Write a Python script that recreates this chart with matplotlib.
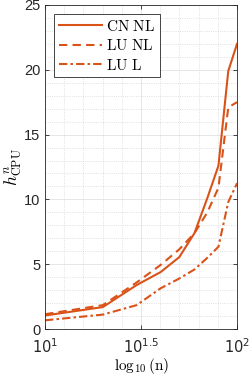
import numpy as np
import matplotlib
matplotlib.use("Agg")
import matplotlib.pyplot as plt
from matplotlib.ticker import FixedLocator, MultipleLocator, NullFormatter
from matplotlib.font_manager import FontProperties

n = [10, 20, 30, 40, 50, 60, 70, 80, 90, 100]
cn_nl = [1.05, 1.7, 3.4, 4.4, 5.55, 7.4, 10.1, 12.6, 19.9, 22.0]
lu_nl = [1.15, 1.85, 3.6, 4.95, 6.15, 7.4, 9.0, 10.9, 17.1, 17.5]
lu_l = [0.68, 1.12, 1.85, 3.15, 3.9, 4.6, 5.5, 6.35, 9.8, 11.25]

series_labels = [r'$\mathrm{CN\ NL}$', r'$\mathrm{LU\ NL}$', r'$\mathrm{LU\ L}$']
xtick_vals = [10, 10 ** 1.5, 100]
xtick_labels = [r'$10^{1}$', r'$10^{1.5}$', r'$10^{2}$']
ytick_vals = [0, 5, 10, 15, 20, 25]

color = '#D95319'
plt.rcParams['font.family'] = ['Liberation Sans', 'DejaVu Sans']
plt.rcParams['mathtext.fontset'] = 'cm'

fig = plt.figure(figsize=(2.49, 3.77), dpi=100)
ax = fig.add_axes([0.181, 0.127, 0.771, 0.86])

ax.plot(n, cn_nl, '-', color=color, lw=1.5, label=series_labels[0])
ax.plot(n, lu_nl, '--', color=color, lw=1.5, label=series_labels[1], dashes=(4, 2.5))
ax.plot(n, lu_l, '-.', color=color, lw=1.5, label=series_labels[2], dashes=(4, 1.5, 1.2, 1.5))

ax.set_xscale('log')
ax.set_xlim(10, 100)
ax.set_ylim(0, 25)
ax.xaxis.set_major_locator(FixedLocator(xtick_vals))
ax.xaxis.set_minor_locator(FixedLocator([10 ** (1 + 0.1 * k) for k in range(1, 10) if k != 5]))
ax.xaxis.set_minor_formatter(NullFormatter())
ax.set_xticks(xtick_vals)
ax.set_xticklabels(xtick_labels)
ax.set_yticks(ytick_vals)
ax.yaxis.set_minor_locator(MultipleLocator(1))
for lbl in ax.get_xticklabels():
    lbl.set_math_fontfamily('dejavusans')

ax.grid(True, which='major', color='#e2e2e2', lw=0.6)
ax.grid(True, which='minor', color='#d6d6d6', lw=0.6, ls=':')
ax.set_axisbelow(True)
ax.tick_params(which='both', direction='in', top=True, right=True, labelsize=10.5,
               colors='#262626')
ax.tick_params(which='minor', length=0)
ax.tick_params(which='major', length=3, width=0.6)
ax.tick_params(axis='x', which='major', pad=6)
for sp in ax.spines.values():
    sp.set_color('#262626')
    sp.set_linewidth(0.6)

ax.set_xlabel(r'$\log_{10}(\mathrm{n})$', fontsize=11, labelpad=0)
ax.set_ylabel(r'$h^{n}_{\mathrm{CPU}}$', fontsize=12.5, labelpad=0)

leg = ax.legend(loc='upper left', prop=FontProperties(size=11, math_fontfamily='cm'),
                fancybox=False, edgecolor='#262626', framealpha=1,
                handlelength=2.8, borderpad=0.3, labelspacing=0.3,
                handletextpad=0.3, borderaxespad=0.6)
leg.get_frame().set_linewidth(0.6)

fig.savefig('out.png', dpi=100)
